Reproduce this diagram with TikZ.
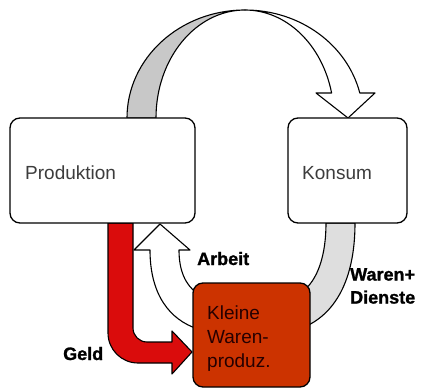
\documentclass[tikz,border=0pt]{standalone}
\usepackage{fontspec}
\setmainfont{Liberation Sans}
\newfontfamily\heavyfont{Liberation Sans}[BoldFont={* Bold}, BoldFeatures={FakeBold=1.2}]
\definecolor{kleinefill}{RGB}{204,51,0}
\definecolor{geldred}{RGB}{218,12,12}
\definecolor{ribbongray}{RGB}{200,200,200}
\definecolor{warengray}{RGB}{222,222,222}
\definecolor{boxtext}{RGB}{60,60,60}
\begin{document}
\begin{tikzpicture}[x=1pt,y=1pt,
  box/.style={draw=black, line width=1.3pt, rounded corners=10pt, inner sep=0pt},
  flow/.style={draw=black, line width=1.1pt, line join=round},
  boxtxt/.style={inner sep=0pt, text=boxtext, font=\fontsize{19}{24}\selectfont},
  lbl/.style={inner sep=0pt, text=black, font=\heavyfont\fontsize{18}{23}\selectfont\bfseries}]
\useasboundingbox (0,0) rectangle (421,389);
% top ribbon (Produktion -> Konsum)
\filldraw[flow, fill=ribbongray] (127,271)
  arc[start angle=180, end angle=90, x radius=118pt, y radius=108pt]
  arc[start angle=90, end angle=180, x radius=89pt, y radius=108pt] -- cycle;
\filldraw[flow, fill=white] (245,379)
  arc[start angle=90, end angle=13.4, x radius=118pt, y radius=108pt]
  -- (375,296) -- (348,271) -- (316,296) -- (331.6,296)
  arc[start angle=13.4, end angle=90, x radius=89pt, y radius=108pt] -- cycle;
% Geld arrow
\filldraw[flow, fill=geldred] (108,166) -- (108,56)
  arc[start angle=180, end angle=270, radius=30pt] -- (172,26) -- (172,15)
  -- (192,37) -- (172,58) -- (172,47) -- (147,47)
  arc[start angle=270, end angle=180, radius=14pt] -- (133,166) -- cycle;
% Arbeit arrow
\filldraw[flow, fill=white] (160,165) -- (134,139) -- (150,139)
  .. controls (150,94) and (170,69) .. (198,60) -- (198,95)
  .. controls (185,104) and (179,119) .. (179,139) -- (190,139) -- cycle;
% Waren+Dienste arrow
\filldraw[flow, fill=warengray] (326,166)
  .. controls (326,134) and (318,109) .. (302,97) -- (302,61)
  .. controls (335,74) and (355,109) .. (355,166) -- cycle;
% boxes
\node[box, fill=white, minimum width=185pt, minimum height=105pt] (prod) at (102.5,218.5) {};
\node[box, fill=white, minimum width=119pt, minimum height=105pt] (kons) at (347.5,218.5) {};
\node[box, fill=kleinefill, minimum width=117pt, minimum height=104pt] (klein) at (251.5,54) {};
% texts
\node[boxtxt, anchor=base west] (ptxt) at (25,209) {Produktion};
\node[boxtxt, anchor=base west] (ktxt) at (302,209) {Konsum};
\node[boxtxt, text=black!85!red, anchor=north west, align=left] (kltxt) at (207,83.5) {Kleine\\Waren-\\produz.};
\node[lbl, anchor=base west] (arb) at (197,124) {Arbeit};
\node[lbl, anchor=north west, align=left] (war) at (350,121) {Waren+\\Dienste};
\node[lbl, anchor=base west] (geld) at (63,29) {Geld};
\end{tikzpicture}
\end{document}
